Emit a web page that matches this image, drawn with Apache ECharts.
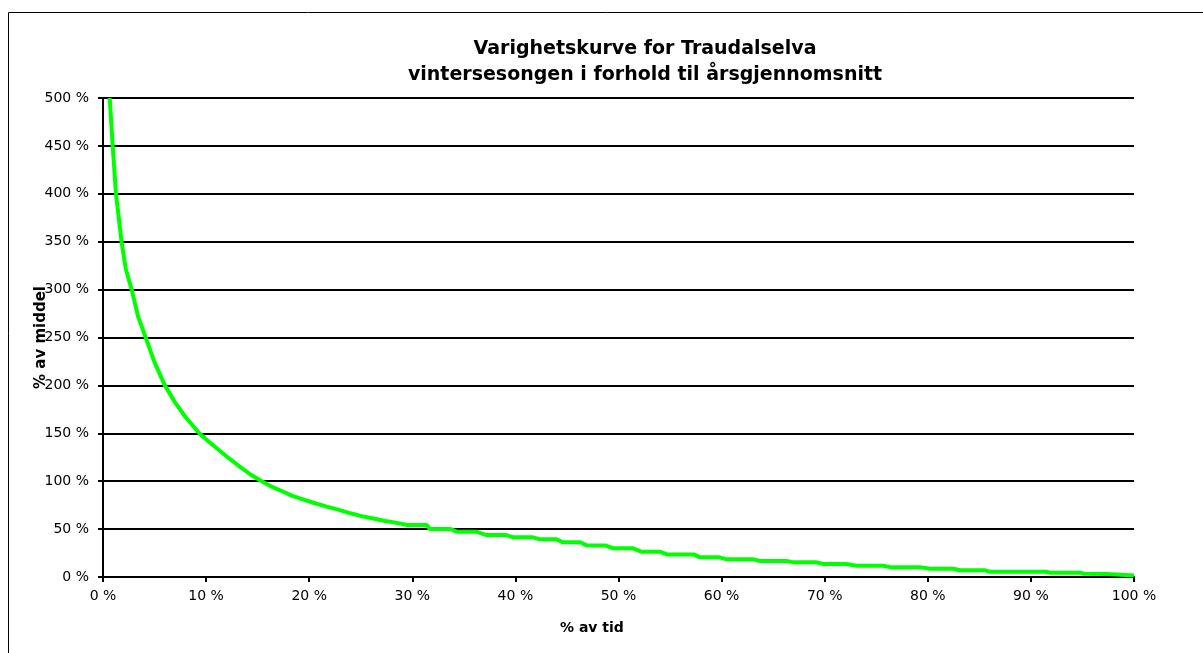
<!DOCTYPE html>
<html>
<head>
<meta charset="utf-8">
<script src="https://cdn.jsdelivr.net/npm/echarts@6/dist/echarts.min.js"></script>
<style>
	html, body { margin: 0; padding: 0; background: #fff; }
	#chart { width: 1203px; height: 653px; }
</style>
</head>
<body>
<div id="chart"></div>
<script>
// % av tid (x) and % av middel (y)
var timePct = [
	0.65, 0.94, 1.26, 1.8, 2.2, 2.78, 3.4, 4.14, 5.0, 6.0, 7.0, 8.0, 9.34, 10.3,
	11.3, 12.2, 13.3, 14.3, 15.4, 16.4, 17.5, 18.3, 19.1, 20.4, 21.7, 22.9, 24.0,
	25.1, 26.2, 27.4, 28.5,
	29.5, 31.4, 31.7, 33.7, 34.3, 36.2, 37.2, 39.1, 39.8, 41.7, 42.4, 44.0, 44.6,
	46.3, 46.9, 48.7, 49.5, 51.4, 52.2, 54.0, 54.7, 57.3, 57.9, 59.8, 60.5, 63.1,
	63.7, 66.3, 67.0, 69.2, 69.9, 72.1, 73.1, 75.7, 76.3, 79.2, 80.2, 82.5, 83.1,
	85.5, 86.0, 91.5, 91.8, 94.8, 95.1, 97.4, 100
];
var flowPct = [
	500, 450, 400, 350, 322, 300, 272, 250, 224, 200, 182, 167, 150, 141,
	132, 124, 115, 107, 100, 94, 89, 85, 82, 77.5, 73.5, 70, 66.5,
	63.5, 61, 58.5, 56.5,
	54.3, 54.3, 50.1, 50.1, 47.3, 47.3, 43.8, 43.8, 41.4, 41.4, 39.3, 39.3, 36.2,
	36.2, 33, 33, 29.9, 29.9, 26.4, 26.4, 23.6, 23.6, 20.5, 20.5, 18.4, 18.4,
	16.7, 16.7, 15.3, 15.3, 13.6, 13.6, 11.8, 11.8, 10.3, 10.3, 8.6, 8.6, 7.0,
	7.0, 5.6, 5.5, 4.5, 4.5, 3.4, 3.2, 1.6
];
var titleLines = ['Varighetskurve for Traudalselva', 'vintersesongen i forhold til årsgjennomsnitt'];

var curve = [];
for (var i = 0; i < timePct.length; i++) {
	curve.push([timePct[i], flowPct[i]]);
}

var font = 'DejaVu Sans, Verdana, sans-serif';
var myChart = echarts.init(document.getElementById('chart'));
var option = {
	backgroundColor: '#fff',
	animation: false,
	title: {
		text: titleLines.join('\n'),
		left: 640,
		top: 31,
		textAlign: 'center',
		textStyle: {
			fontFamily: font,
			fontWeight: 'bold',
			fontSize: 19,
			lineHeight: 26,
			color: '#000'
		}
	},
	grid: {
		left: 103,
		right: 69,
		top: 98,
		bottom: 76
	},
	graphic: [
		{
			type: 'rect',
			shape: { x: 8.5, y: 12.5, width: 1300, height: 700 },
			style: { fill: 'none', stroke: '#000', lineWidth: 1 },
			silent: true
		},
		{
			type: 'text',
			left: 560,
			top: 621,
			style: {
				text: '% av tid',
				fontFamily: font,
				fontWeight: 'bold',
				fontSize: 14,
				fill: '#000'
			}
		}
	],
	xAxis: {
		type: 'value',
		min: 0,
		max: 100,
		interval: 10,
		axisLine: { lineStyle: { color: '#000', width: 2 } },
		axisTick: { show: true, length: 5, lineStyle: { color: '#000', width: 2 } },
		axisLabel: {
			margin: 12,
			formatter: '{value} %',
			fontFamily: font,
			fontSize: 14,
			color: '#000'
		},
		splitLine: { show: false }
	},
	yAxis: {
		type: 'value',
		min: 0,
		max: 500,
		interval: 50,
		name: '% av middel',
		nameLocation: 'middle',
		nameGap: 54,
		nameRotate: 90,
		nameMoveOverlap: false,
		nameTextStyle: {
			fontFamily: font,
			fontWeight: 'bold',
			fontSize: 15,
			color: '#000'
		},
		axisLine: { show: true, lineStyle: { color: '#000', width: 2 } },
		axisTick: { show: true, length: 5, lineStyle: { color: '#000', width: 2 } },
		axisLabel: {
			margin: 14,
			formatter: '{value} %',
			fontFamily: font,
			fontSize: 14,
			color: '#000'
		},
		splitLine: { lineStyle: { color: '#000', width: 2 } }
	},
	series: [
		{
			type: 'line',
			data: curve,
			showSymbol: false,
			clip: true,
			lineStyle: { color: '#00ff00', width: 4 },
			itemStyle: { color: '#00ff00' }
		}
	]
};
myChart.setOption(option);
</script>
</body>
</html>
